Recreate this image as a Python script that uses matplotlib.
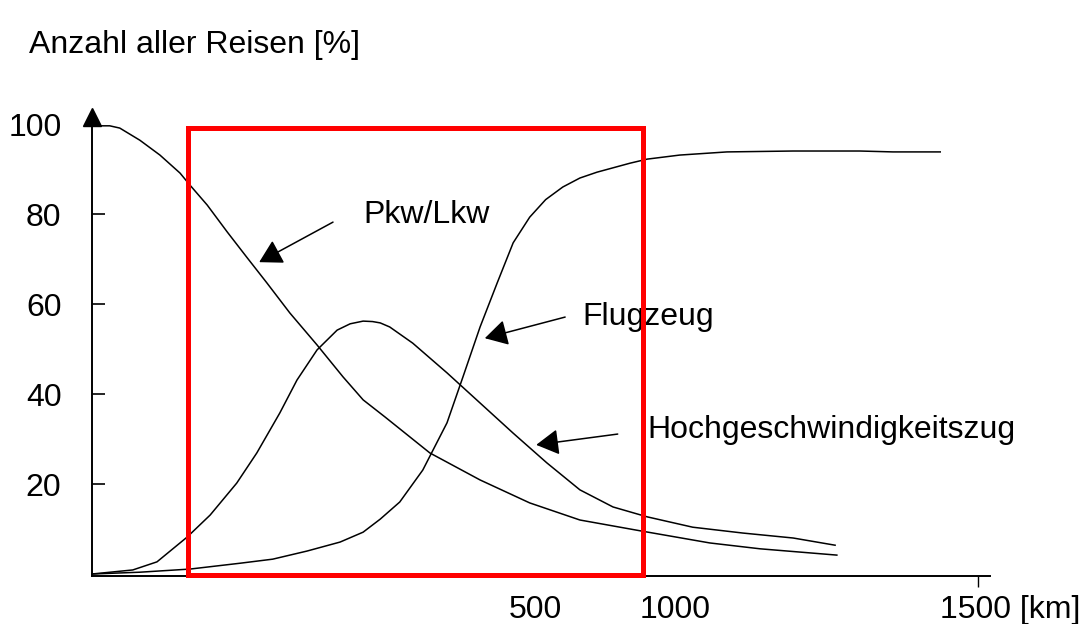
import matplotlib.pyplot as plt
from matplotlib.patches import Rectangle

plt.rcParams['font.family'] = ['Liberation Sans', 'DejaVu Sans']

# Reisedistanz [km] und Anteil [%] je Verkehrsmittel
pkw_km = [13, 30, 47, 81, 115, 149, 166, 195, 229, 262, 296, 335, 381, 425,
          459, 496, 572, 657, 741, 826, 928, 1046, 1131, 1261]
pkw_pct = [99.6, 99.6, 99.1, 96.4, 93.1, 89.1, 86.4, 82.0, 76.0, 70.4, 64.7,
           58.0, 50.9, 43.8, 38.7, 34.9, 26.9, 20.9, 15.8, 12.0, 9.6, 6.9,
           5.6, 4.2]

flug_km = [0, 81, 166, 251, 306, 364, 420, 459, 488, 521, 560, 601, 628, 657,
           686, 713, 741, 768, 797, 826, 855, 911, 940, 995, 1075, 1187, 1300,
           1356, 1436]
flug_pct = [0, 0.4, 1.1, 2.4, 3.3, 5.1, 7.1, 9.3, 12.2, 16.0, 23.1, 33.6,
            43.8, 54.9, 64.7, 73.6, 79.3, 83.2, 86.0, 88.0, 89.3, 91.3, 92.2,
            93.1, 93.8, 94.0, 94.0, 93.8, 93.8]

hgv_km = [0, 69, 110, 161, 200, 245, 279, 318, 347, 381, 415, 437, 459, 475,
          488, 504, 543, 601, 657, 713, 770, 826, 882, 940, 1017, 1102, 1187,
          1258]
hgv_pct = [0, 0.9, 2.7, 8.2, 13.1, 20.2, 26.9, 35.8, 43.1, 49.8, 54.2, 55.6,
           56.2, 56.1, 55.8, 54.9, 51.3, 44.7, 38.0, 31.3, 24.7, 18.7, 14.9,
           12.7, 10.4, 9.1, 8.0, 6.4]

y_ticks = [20, 40, 60, 80, 100]
y_labels = ['20', '40', '60', '80', '100']

# markierter Bereich
box_km = (163, 932)
box_pct = (-0.3, 99.2)

fs = 23

fig = plt.figure(figsize=(10.82, 6.24), dpi=100)
ax = fig.add_axes([0, 0, 1, 1])
ax.set_xlim(-155.75, 1676.0)
ax.set_ylim(-11.11, 127.56)

for s in ['top', 'right']:
    ax.spines[s].set_visible(False)
ax.spines['left'].set_position(('data', 0))
ax.spines['bottom'].set_position(('data', -0.4))
ax.spines['left'].set_bounds(-0.4, 100)
ax.spines['bottom'].set_bounds(0, 1520)
ax.spines['left'].set_linewidth(1.4)
ax.spines['bottom'].set_linewidth(1.4)

ax.set_yticks(y_ticks, y_labels, fontsize=fs)
ax.tick_params(axis='y', direction='in', length=9, width=1.2, pad=22)
ax.yaxis.get_major_ticks()[-1].tick1line.set_visible(False)
ax.set_xticks([1500], [''])
ax.tick_params(axis='x', direction='out', length=8, width=1.0)

# Pfeilspitze der y-Achse
ax.plot([0], [101.6], marker='^', ms=13.5, color='k', clip_on=False)

ax.plot(pkw_km, pkw_pct, color='k', lw=1.1)
ax.plot(flug_km, flug_pct, color='k', lw=1.1)
ax.plot(hgv_km, hgv_pct, color='k', lw=1.1)

# x-Beschriftung wie im Original gesetzt
ax.text(750, -9.8, '500', ha='center', va='baseline', fontsize=fs)
ax.text(987, -9.8, '1000', ha='center', va='baseline', fontsize=fs)
ax.text(1436, -9.8, '1500 [km]', ha='left', va='baseline', fontsize=fs)

arrow = dict(arrowstyle='-|>,head_length=0.7,head_width=0.4',
             color='k', lw=1.1, mutation_scale=20, shrinkA=0, shrinkB=0)
ax.annotate('', xy=(283, 69.3), xytext=(408, 78.2), arrowprops=arrow)
ax.annotate('', xy=(665, 52.4), xytext=(801, 57.1), arrowprops=arrow)
ax.annotate('', xy=(752, 28.7), xytext=(890, 31.1), arrowprops=arrow)

ax.text(459, 78.0, 'Pkw/Lkw', ha='left', va='baseline', fontsize=fs)
ax.text(831, 55.3, 'Flugzeug', ha='left', va='baseline', fontsize=fs)
ax.text(941, 30.2, 'Hochgeschwindigkeitszug', ha='left', va='baseline',
        fontsize=fs)

ax.add_patch(Rectangle((box_km[0], box_pct[0]), box_km[1] - box_km[0],
                       box_pct[1] - box_pct[0], fill=False,
                       edgecolor='#ff0000', lw=3.6, zorder=5))

fig.text(29 / 1082, 1 - 53 / 624, 'Anzahl aller Reisen [%]', ha='left',
         va='baseline', fontsize=fs)

fig.savefig('out.png', dpi=100)
